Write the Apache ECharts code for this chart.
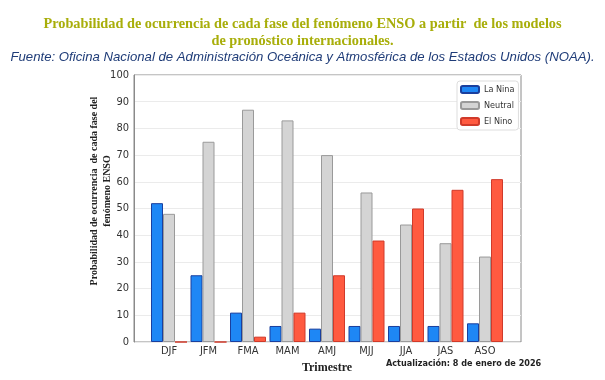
<!DOCTYPE html>
<html><head><meta charset="utf-8">
<script src="https://cdn.jsdelivr.net/npm/echarts@6/dist/echarts.min.js"></script>
<style>html,body{margin:0;padding:0;background:#fff}#c{width:605px;height:380px}</style>
</head><body><div id="c"></div>
<script>
const categories = ['DJF','JFM','FMA','MAM','AMJ','MJJ','JJA','JAS','ASO'];
const laNina  = [52, 25, 11, 6, 5, 6, 6, 6, 7];
const neutral = [48, 75, 87, 83, 70, 56, 44, 37, 32];
const elNino  = [0, 0, 2, 11, 25, 38, 50, 57, 61];
const seriesNames = ['La Nina','Neutral','El Nino'];
const yTicks = {min: 0, max: 100, interval: 10};

const chart = echarts.init(document.getElementById('c'), null, {renderer: 'canvas'});
const barStyle = (fill, edge) => ({color: fill, borderColor: edge, borderWidth: 1});
chart.setOption({
  animation: false,
  title: [{
    text: 'Probabilidad de ocurrencia de cada fase del fenómeno ENSO a partir  de los modelos\nde pronóstico internacionales.',
    left: 'center', top: 11,
    textStyle: {color: '#A8AE0A', fontFamily: 'Liberation Serif', fontWeight: 'bold', fontSize: 14.3, lineHeight: 17, align: 'center'}
  }, {
    text: 'Fuente: Oficina Nacional de Administración Oceánica y Atmosférica de los Estados Unidos (NOAA).',
    left: 'center', top: 46,
    textStyle: {color: '#1F3C78', fontFamily: 'Liberation Sans', fontStyle: 'italic', fontWeight: 'normal', fontSize: 13.2}
  }],
  legend: {
    orient: 'vertical', left: 457, top: 81,
    data: seriesNames,
    itemWidth: 18, itemHeight: 7, itemGap: 7,
    padding: [4, 4, 4, 3],
    borderColor: '#ddd', borderWidth: 1, borderRadius: 3,
    backgroundColor: '#fff',
    textStyle: {fontSize: 9, color: '#333', fontFamily: 'DejaVu Sans Condensed'}
  },
  grid: [
    {left: 134, top: 75, width: 387, height: 267, show: true, borderColor: '#8a8a8a', borderWidth: 1, backgroundColor: 'transparent'},
    {left: 149.25, top: 75, width: 355.5, height: 267}
  ],
  xAxis: [
    {gridIndex: 0, type: 'value', min: 0, max: 1, show: false},
    {gridIndex: 1, type: 'category', data: categories,
     axisLine: {show: false}, axisTick: {show: false},
     axisLabel: {color: '#333', fontSize: 11, margin: 4, fontFamily: 'DejaVu Sans Condensed'},
     name: 'Trimestre', nameLocation: 'middle', nameGap: 20,
     nameTextStyle: {fontFamily: 'Liberation Serif', fontWeight: 'bold', fontSize: 12, color: '#222'}}
  ],
  yAxis: [
    {gridIndex: 0, type: 'value', min: yTicks.min, max: yTicks.max, interval: yTicks.interval,
     axisLine: {show: true, lineStyle: {color: '#8a8a8a'}},
     axisTick: {show: false},
     axisLabel: {color: '#333', fontSize: 11, margin: 5, fontFamily: 'DejaVu Sans Condensed'},
     splitLine: {show: true, lineStyle: {color: '#ebebeb', width: 1}}},
    {gridIndex: 1, type: 'value', min: yTicks.min, max: yTicks.max, show: false, splitLine: {show: false}}
  ],
  series: [
    {name: seriesNames[0], type: 'bar', xAxisIndex: 1, yAxisIndex: 1, data: laNina, barWidth: 12, barGap: '0%',
     itemStyle: barStyle('#1E87F5', '#1A3F9E')},
    {name: seriesNames[1], type: 'bar', xAxisIndex: 1, yAxisIndex: 1, data: neutral, barWidth: 12, barGap: '0%',
     itemStyle: barStyle('#D4D4D4', '#9a9a9a')},
    {name: seriesNames[2], type: 'bar', xAxisIndex: 1, yAxisIndex: 1, data: elNino, barWidth: 12, barGap: '0%',
     itemStyle: barStyle('#FF5A40', '#D03A2A')}
  ],
  graphic: [
    {type: 'text', x: 101, y: 191, rotation: Math.PI / 2,
     style: {text: 'Probabilidad de ocurrencia  de cada fase del\nfenómeno ENSO', align: 'center', verticalAlign: 'middle',
             font: 'bold 10px "Liberation Serif"', lineHeight: 13, fill: '#222'}},
    {type: 'text', x: 386, y: 364,
     style: {text: 'Actualización: 8 de enero de 2026', align: 'left', verticalAlign: 'middle',
             font: 'bold 9px "DejaVu Sans Condensed"', fill: '#222'}}
  ]
});
</script></body></html>
